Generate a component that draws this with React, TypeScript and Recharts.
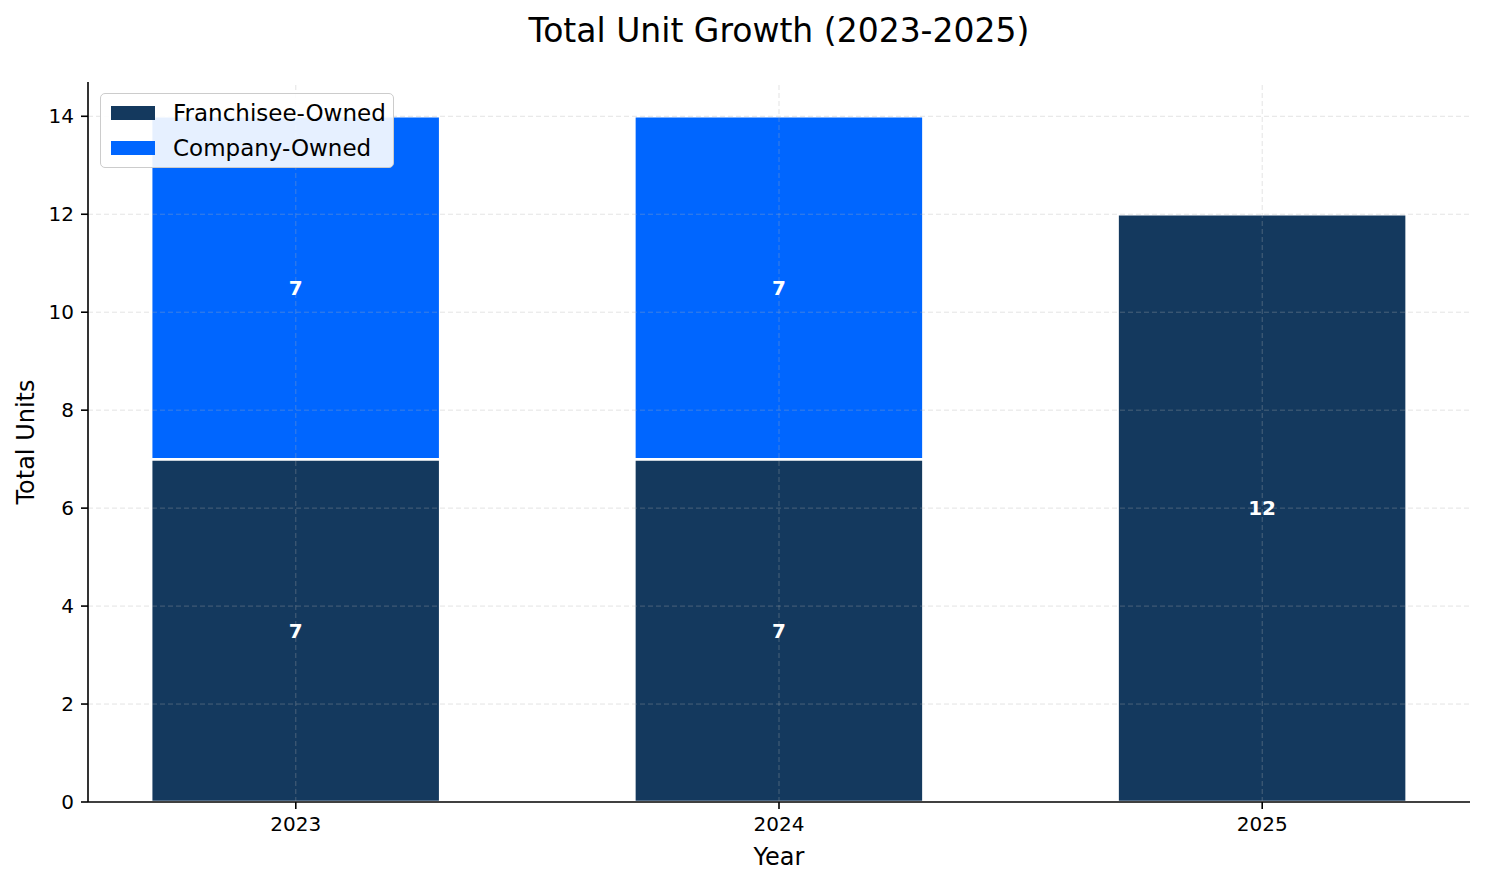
import React from "react"
import { BarChart, Bar, XAxis, YAxis, ReferenceLine, LabelList } from "recharts"

const years = ["2023", "2024", "2025"]
const franchiseeOwned = [7, 7, 12]
const companyOwned = [7, 7, 0]
const yTicks = [0, 2, 4, 6, 8, 10, 12, 14]

const NAVY = "#14395e"
const BLUE = "#0066ff"
const FONT = "'DejaVu Sans', sans-serif"

const data = years.map((year, i) => ({
  idx: i,
  year,
  franchisee: franchiseeOwned[i],
  company: companyOwned[i],
}))

const gridStyle = { stroke: "#b0b0b0", strokeOpacity: 0.35, strokeDasharray: "5 3", strokeWidth: 1 }

export default function App() {
  return (
    <div style={{ position: "relative", width: 1485, height: 884, fontFamily: FONT, background: "#fff" }}>
      <style>{`body{margin:0}`}</style>
      <BarChart width={1485} height={884} data={data} margin={{ top: 82, right: 15, bottom: 0, left: 0 }}>
        <XAxis
          type="number"
          dataKey="idx"
          domain={[-0.43, 2.43]}
          ticks={[0, 1, 2]}
          allowDataOverflow
          tickFormatter={(i) => years[i]}
          height={82}
          tickSize={7}
          tickMargin={8}
          axisLine={{ stroke: "#000", strokeWidth: 1.6 }}
          tickLine={{ stroke: "#000", strokeWidth: 1.6 }}
          tick={{ fill: "#000", fontSize: 20, fontFamily: FONT }}
        />
        <YAxis
          type="number"
          domain={[0, 14.7]}
          ticks={yTicks}
          allowDataOverflow
          width={88}
          tickSize={7}
          tickMargin={7}
          axisLine={{ stroke: "#000", strokeWidth: 1.6 }}
          tickLine={{ stroke: "#000", strokeWidth: 1.6 }}
          tick={{ fill: "#000", fontSize: 20, fontFamily: FONT }}
        />
        <Bar dataKey="franchisee" stackId="a" fill={NAVY} stroke="#fff" strokeWidth={2.5} barSize={289} isAnimationActive={false}>
          <LabelList
            dataKey="franchisee"
            position="center"
            formatter={(v: number) => (v ? v : "")}
            fill="#fff"
            style={{ fontSize: 20, fontWeight: "bold", fontFamily: FONT }}
          />
        </Bar>
        <Bar dataKey="company" stackId="a" fill={BLUE} stroke="#fff" strokeWidth={2.5} barSize={289} isAnimationActive={false}>
          <LabelList
            dataKey="company"
            position="center"
            formatter={(v: number) => (v ? v : "")}
            fill="#fff"
            style={{ fontSize: 20, fontWeight: "bold", fontFamily: FONT }}
          />
        </Bar>
        {yTicks.slice(1).map((v) => (
          <ReferenceLine key={"y" + v} y={v} {...gridStyle} />
        ))}
        {data.map((d) => (
          <ReferenceLine key={"x" + d.idx} x={d.idx} {...gridStyle} />
        ))}
      </BarChart>

      <div style={{ position: "absolute", left: 779, top: 30, transform: "translate(-50%,-50%)", fontSize: 33, lineHeight: 1, whiteSpace: "nowrap", color: "#000" }}>
        Total Unit Growth (2023-2025)
      </div>
      <div style={{ position: "absolute", left: 779, top: 857, transform: "translate(-50%,-50%)", fontSize: 24, lineHeight: 1, color: "#000" }}>
        Year
      </div>
      <div style={{ position: "absolute", left: 26, top: 442, transform: "translate(-50%,-50%) rotate(-90deg)", fontSize: 24, lineHeight: 1, whiteSpace: "nowrap", color: "#000" }}>
        Total Units
      </div>

      <div
        style={{
          position: "absolute",
          left: 100,
          top: 93,
          width: 294,
          height: 75,
          boxSizing: "border-box",
          background: "rgba(255,255,255,0.9)",
          border: "1.5px solid #cccccc",
          borderRadius: 5,
          fontSize: 23,
          color: "#000",
        }}
      >
        {[
          { name: "Franchisee-Owned", color: NAVY },
          { name: "Company-Owned", color: BLUE },
        ].map((item, i) => (
          <div key={item.name} style={{ position: "absolute", left: 10, top: 7 + i * 35, height: 24, display: "flex", alignItems: "center", whiteSpace: "nowrap" }}>
            <span style={{ display: "inline-block", width: 44, height: 14, background: item.color, marginRight: 18 }} />
            <span style={{ lineHeight: 1 }}>{item.name}</span>
          </div>
        ))}
      </div>
    </div>
  )
}
